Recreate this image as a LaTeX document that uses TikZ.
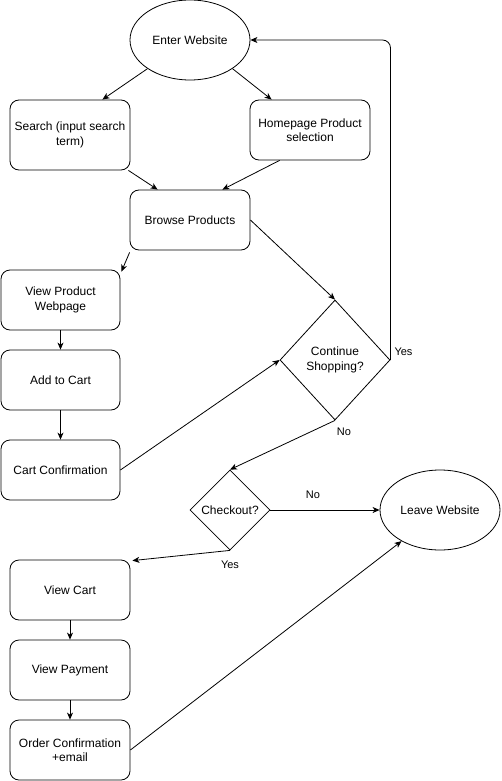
\documentclass[tikz,border=0pt]{standalone}
\usepackage{fontspec}
\setmainfont{Liberation Sans}
\usetikzlibrary{shapes.geometric,arrows.meta}
\begin{document}
\begin{tikzpicture}[x=1pt,y=-1pt,
  every node/.style={font=\fontsize{12}{14.4}\selectfont, align=center},
  box/.style={draw, rounded corners=9pt, minimum width=120pt, minimum height=60pt, inner sep=1pt, line width=0.8pt},
  oval/.style={draw, ellipse, minimum width=120pt, minimum height=80pt, inner sep=0pt, line width=0.8pt},
  decision/.style={draw, diamond, inner sep=0pt, line width=0.8pt},
  arr/.style={-{Stealth[length=7pt,width=6pt,inset=2pt]}, line width=0.8pt},
  lbl/.style={font=\fontsize{11}{13}\selectfont}
]
\useasboundingbox (0,0) rectangle (501,781);
\node[oval] (enter) at (190,40) {Enter Website};
\node[box, minimum height=70pt] (search) at (70,135) {Search (input search\\term)};
\node[box] (home) at (310,130) {Homepage Product\\selection};
\node[box] (browse) at (190,220) {Browse Products};
\node[box, minimum width=119pt] (view) at (60.5,300) {View Product\\Webpage};
\node[box, minimum width=119pt] (add) at (60.5,380) {Add to Cart};
\node[box, minimum width=119pt] (cartc) at (60.5,470) {Cart Confirmation};
\node[decision, minimum width=110pt, minimum height=120pt] (cs) at (335,360) {Continue\\Shopping?};
\node[decision, minimum width=80pt, minimum height=80pt] (co) at (230,510) {Checkout?};
\node[oval] (leave) at (440,510) {Leave Website};
\node[box] (vcart) at (70,590) {View Cart};
\node[box] (vpay) at (70,670) {View Payment};
\node[box] (order) at (70,750) {Order Confirmation\\+email};
\coordinate (loop) at (390.5,40);

\draw[arr] (enter.214) -- ([xshift=-28pt]search.north east);
\draw[arr] (enter.326) -- ([xshift=22pt]home.north west);
\draw[arr] ([xshift=-2pt]search.south east) -- ([xshift=28pt]browse.north west);
\draw[arr] ([xshift=30pt]home.south west) -- ([xshift=-28pt]browse.north east);
\draw[arr] ([yshift=-2pt]browse.south west) -- ([xshift=1pt,yshift=-2pt]view.north east);
\draw[arr] (view.south) -- (add.north);
\draw[arr] (add.south) -- (cartc.north);
\draw[arr] (cartc.east) -- (cs.west);
\draw[arr] (browse.east) -- (cs.north);
\draw[arr, rounded corners=8pt] (cs.east) -- (loop) -- (enter.east);
\node[lbl, anchor=west] (yes1) at (391,352) {Yes};
\draw[arr] (cs.south) -- (co.north);
\node[lbl] (no1) at (344,432) {No};
\draw[arr] (co.south) -- ([xshift=2pt,yshift=-1pt]vcart.north east);
\node[lbl] (yes2) at (230,565) {Yes};
\draw[arr] (co.east) -- (leave.west);
\node[lbl] (no2) at (313,495) {No};
\draw[arr] (vcart.south) -- (vpay.north);
\draw[arr] (vpay.south) -- (order.north);
\draw[arr] (order.east) -- (leave.219);
\end{tikzpicture}
\end{document}
